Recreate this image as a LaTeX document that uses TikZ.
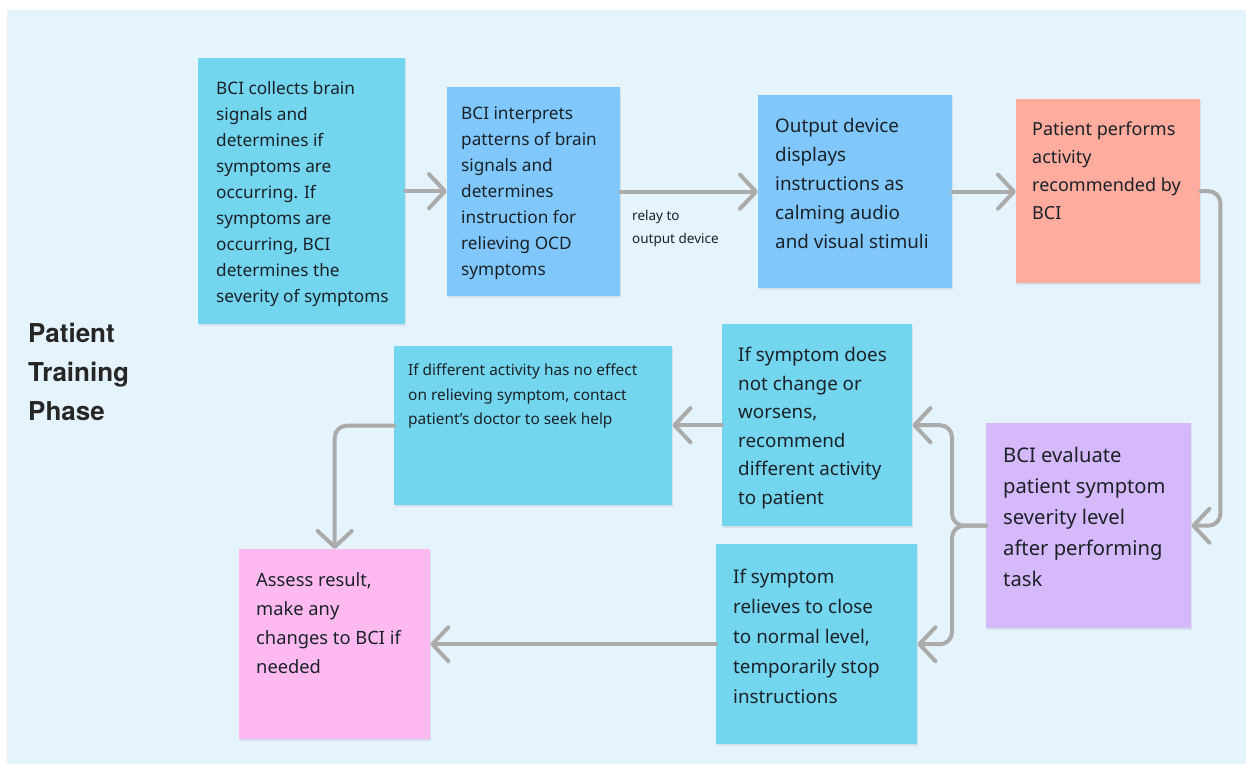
\documentclass[tikz,border=0pt]{standalone}
\usepackage{fontspec}
\setmainfont{Noto Sans}
\newfontfamily\titlefont{TeX Gyre Heros}
\usetikzlibrary{arrows.meta,shadows}
\definecolor{panel}{HTML}{E5F3FD}
\definecolor{bcyan}{HTML}{74D5EF}
\definecolor{bblue}{HTML}{80C7FC}
\definecolor{bsalmon}{HTML}{FFAB9E}
\definecolor{bpurple}{HTML}{D6B9FB}
\definecolor{bpink}{HTML}{FEBAF0}
\definecolor{arrgray}{HTML}{ABABAB}
\definecolor{ink}{HTML}{1A2228}
\newcommand{\setfs}[2]{\fontsize{#1}{#2}\selectfont}
\tikzset{
  box/.style={rectangle, draw=none, inner sep=0pt, anchor=north west,
    drop shadow={shadow xshift=0.5pt, shadow yshift=-1.5pt, opacity=0.07, fill=black}},
  txt/.style={inner sep=0pt, anchor=north west, align=left, text=ink},
  arr/.style={draw=arrgray, line width=4pt, line cap=round, rounded corners=12pt,
    -{Straight Barb[length=16pt,width=34pt,round]}},
}
\begin{document}
\begin{tikzpicture}[x=1pt,y=-1pt]
\useasboundingbox (0,0) rectangle (1246,764);
\fill[white] (0,0) rectangle (1246,764);
\fill[panel] (7,10) rectangle (1246,764);

% title
\node[txt, text=black!85, font=\titlefont\bfseries\setfs{26}{39}] (title) at (28,323) {Patient\\Training\\Phase};

% boxes
\node[box, fill=bcyan, minimum width=207pt, minimum height=266pt] (b1) at (198,58) {};
\node[box, fill=bblue, minimum width=173pt, minimum height=209pt] (b2) at (447,87) {};
\node[box, fill=bblue, minimum width=194pt, minimum height=193pt] (b3) at (758,95) {};
\node[box, fill=bsalmon, minimum width=184pt, minimum height=184pt] (b4) at (1016,99) {};
\node[box, fill=bpurple, minimum width=205pt, minimum height=205pt] (b5) at (986,423) {};
\node[box, fill=bcyan, minimum width=190pt, minimum height=202pt] (b6) at (722,324) {};
\node[box, fill=bcyan, minimum width=278pt, minimum height=159pt] (b7) at (394,346) {};
\node[box, fill=bcyan, minimum width=201pt, minimum height=200pt] (b8) at (716,544) {};
\node[box, fill=bpink, minimum width=191pt, minimum height=190pt] (b9) at (239,549) {};

% texts
\node[txt, font=\setfs{17.2}{26}] (t1) at (216,81.5) {BCI collects brain\\signals and\\determines if\\symptoms are\\occurring. If\\symptoms are\\occurring, BCI\\determines the\\severity of symptoms};
\node[txt, font=\setfs{17.2}{26}] (t2) at (461,107) {BCI interprets\\patterns of brain\\signals and\\determines\\instruction for\\relieving OCD\\symptoms};
\node[txt, font=\setfs{18.8}{29}] (t3) at (775,118) {Output device\\displays\\instructions as\\calming audio\\and visual stimuli};
\node[txt, font=\setfs{18}{28}] (t4) at (1032,122) {Patient performs\\activity\\recommended by\\BCI};
\node[txt, font=\setfs{20.2}{31}] (t5) at (1003,447) {BCI evaluate\\patient symptom\\severity level\\after performing\\task};
\node[txt, font=\setfs{18.8}{28.5}] (t6) at (738,347) {If symptom does\\not change or\\worsens,\\recommend\\different activity\\to patient};
\node[txt, font=\setfs{15.4}{24.5}] (t7) at (408,364) {If different activity has no effect\\on relieving symptom, contact\\patient’s doctor to seek help};
\node[txt, font=\setfs{18.8}{30}] (t8) at (733,569) {If symptom\\relieves to close\\to normal level,\\temporarily stop\\instructions};
\node[txt, font=\setfs{18.3}{29}] (t9) at (256,572) {Assess result,\\make any\\changes to BCI if\\needed};

% connectors
\draw[arr] (b1.east) -- (b1.east -| b2.west);
\draw[arr] (b2.east) -- (b2.east -| b3.west);
\node[txt, font=\setfs{13.5}{23}] (relay) at (632,210) {relay to\\output device};
\draw[arr] (b3.east) -- (b3.east -| b4.west);
\draw[arr] (b4.east) -- ++(20,0) |- (b5.east);
\coordinate (jn) at (952,0);
\draw[arr] (b5.west) -- (b5.west -| jn) |- (b6.east);
\draw[arr] (b5.west) -- (b5.west -| jn) |- (b8.east);
\draw[arr] (b6.west) -- (b6.west -| b7.east);
\draw[arr] (b7.west) -| (b9.north);
\draw[arr] (b8.west) -- (b8.west -| b9.east);
\end{tikzpicture}
\end{document}
